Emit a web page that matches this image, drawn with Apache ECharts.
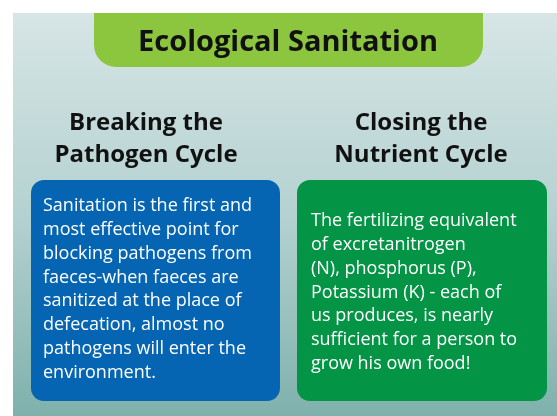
<!DOCTYPE html>
<html><head><meta charset="utf-8">
<script src="https://cdn.jsdelivr.net/npm/echarts@6/dist/echarts.min.js"></script>
<style>html,body{margin:0;padding:0;background:#fff}#c{width:557px;height:416px}</style>
</head><body><div id="c"></div>
<script>
var title = "Ecological Sanitation";
var leftHeading = ["Breaking the", "Pathogen Cycle"];
var rightHeading = ["Closing the", "Nutrient Cycle"];
var leftText = ["Sanitation is the first and","most effective point for","blocking pathogens from","faeces-when faeces are","sanitized at the place of","defecation, almost no","pathogens will enter the","environment."];
var rightText = ["The fertilizing equivalent","of excretanitrogen","(N), phosphorus (P),","Potassium (K) - each of","us produces, is nearly","sufficient for a person to","grow his own food!"];

var FONT = "Open Sans";
var chart = echarts.init(document.getElementById('c'));
var g = [];
g.push({type:'rect', shape:{x:13,y:13,width:544,height:403}, style:{fill:{type:'linear',x:0,y:0,x2:0,y2:1,colorStops:[{offset:0,color:'#d7e5e5'},{offset:0.5,color:'#b4d2d1'},{offset:1,color:'#7fb1ac'}]}}});
g.push({type:'rect', shape:{x:94,y:13,width:389,height:54,r:[0,0,22,22]}, style:{fill:'#8cc63f'}});
g.push({type:'text', x:288, y:43, style:{text:title, font:'bold 29px "'+FONT+'"', fill:'#111', align:'center', verticalAlign:'middle'}});
leftHeading.forEach(function(t,i){g.push({type:'text', x:146, y:123+i*32, style:{text:t, font:'bold 24px "'+FONT+'"', fill:'#111', align:'center', verticalAlign:'middle'}});});
rightHeading.forEach(function(t,i){g.push({type:'text', x:421, y:123+i*32, style:{text:t, font:'bold 24px "'+FONT+'"', fill:'#111', align:'center', verticalAlign:'middle'}});});
g.push({type:'rect', shape:{x:31,y:180,width:249,height:221,r:13}, style:{fill:'#0565b2'}});
g.push({type:'rect', shape:{x:297,y:180,width:250,height:221,r:13}, style:{fill:'#039445'}});
leftText.forEach(function(t,i){g.push({type:'text', x:43, y:206+i*23.8, style:{text:t, font:'18px "'+FONT+'"', fill:'#fff', align:'left', verticalAlign:'middle'}});});
rightText.forEach(function(t,i){g.push({type:'text', x:311, y:221+i*23.8, style:{text:t, font:'18px "'+FONT+'"', fill:'#fff', align:'left', verticalAlign:'middle'}});});
chart.setOption({animation:false, graphic:g});
</script></body></html>
